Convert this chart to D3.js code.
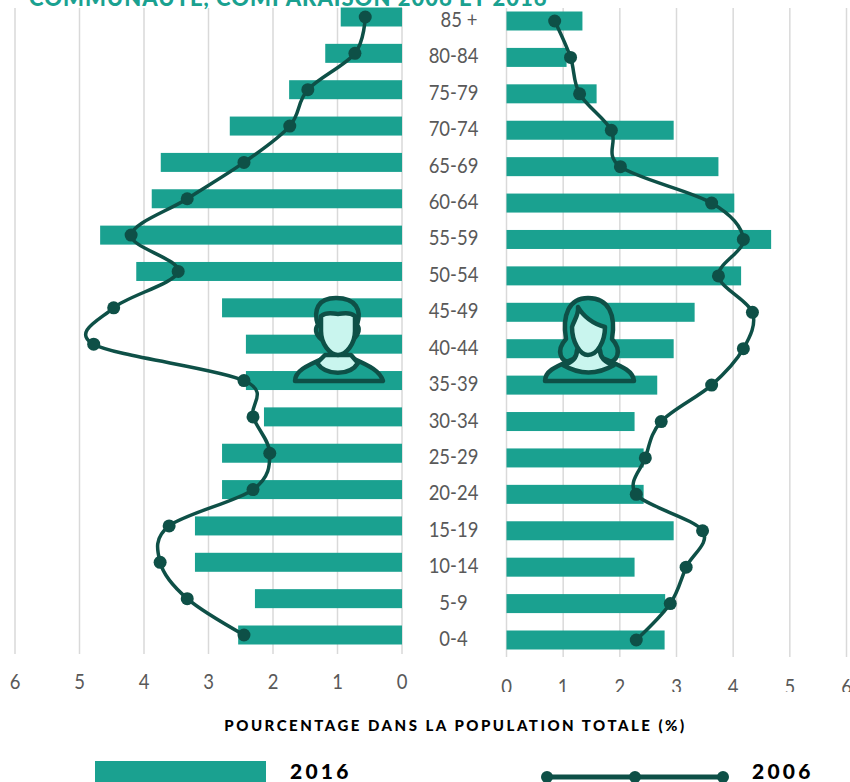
<!DOCTYPE html>
<html>
<head>
<meta charset="utf-8">
<script src="https://cdn.jsdelivr.net/npm/d3@7"></script>
<style>
  html, body { margin: 0; padding: 0; background: #fff; overflow: hidden; }
  svg { display: block; }
</style>
</head>
<body>
<svg id="chart" width="850" height="782"></svg>
<script>
const ageGroups = ["85 +", "80-84", "75-79", "70-74", "65-69", "60-64", "55-59", "50-54", "45-49",
  "40-44", "35-39", "30-34", "25-29", "20-24", "15-19", "10-14", "5-9", "0-4"];
const men2016 = [0.95, 1.19, 1.75, 2.67, 3.74, 3.88, 4.68, 4.12, 2.79, 2.42, 2.42, 2.14, 2.79, 2.79, 3.21, 3.21, 2.28, 2.54];
const men2006 = [0.57, 0.73, 1.46, 1.74, 2.45, 3.33, 4.2, 3.47, 4.47, 4.78, 2.45, 2.31, 2.05, 2.31, 3.61, 3.75, 3.33, 2.45];
const women2016 = [1.34, 1.06, 1.59, 2.95, 3.74, 4.02, 4.67, 4.14, 3.32, 2.95, 2.66, 2.26, 2.42, 2.42, 2.95, 2.26, 2.8, 2.79];
const women2006 = [0.85, 1.13, 1.29, 1.85, 2.01, 3.62, 4.18, 3.74, 4.34, 4.18, 3.62, 2.73, 2.45, 2.29, 3.46, 3.17, 2.89, 2.29];
const ticks = [0, 1, 2, 3, 4, 5, 6];

const teal = "#1aa190";
const dark = "#0e5047";
const grey = "#595959";
const grid = "#d9d9d9";
const skin = "#c9f5ee";
const font = "Lato, 'Open Sans', sans-serif";

const svg = d3.select("#chart");

// the right hand tick labels are cut off in the original, keep it that way
svg.append("clipPath").attr("id", "rightTicks")
  .append("rect").attr("x", 480).attr("y", 660).attr("width", 370).attr("height", 32);

// title is cut by the top of the picture, as in the original
svg.append("text")
  .attr("x", 29).attr("y", 6)
  .attr("font-family", font).attr("font-weight", 900).attr("font-size", 22)
  .attr("letter-spacing", 1)
  .attr("fill", teal)
  .text("COMMUNAUTÉ, COMPARAISON 2006 ET 2016");

const xLeft = d3.scaleLinear().domain([0, 6]).range([402, 15]);
const xRight = d3.scaleLinear().domain([0, 6]).range([506.5, 846.5]);
const yLeft = d3.scalePoint().domain(ageGroups).range([17, 635]);
const yRight = d3.scalePoint().domain(ageGroups).range([21, 640]);

// Lato is a bit wide next to the original Calibri, so squeeze it
function narrowText(sel, x, y) {
  return sel.attr("transform", (d, i) => `translate(${x(d, i)},${y(d, i)}) scale(0.88,1)`)
    .attr("text-anchor", "middle")
    .attr("font-family", font)
    .attr("font-size", 21)
    .attr("fill", grey);
}

function drawSide(x, y, bars, line, gridEnd, tickY) {
  const g = svg.append("g");

  g.append("g").selectAll("line")
    .data(ticks)
    .join("line")
    .attr("x1", d => x(d)).attr("x2", d => x(d))
    .attr("y1", 8).attr("y2", gridEnd)
    .attr("stroke", grid).attr("stroke-width", 1.5);

  g.append("g").selectAll("rect")
    .data(ageGroups)
    .join("rect")
    .attr("x", (d, i) => Math.min(x(0), x(bars[i])))
    .attr("y", d => y(d) - 9.5)
    .attr("width", (d, i) => Math.abs(x(bars[i]) - x(0)))
    .attr("height", 19)
    .attr("fill", teal);

  // uniform catmull-rom is close to what Excel does for a smoothed line
  const path = d3.line()
    .x((d, i) => x(d))
    .y((d, i) => y(ageGroups[i]))
    .curve(d3.curveCatmullRom.alpha(0));

  g.append("path")
    .attr("d", path(line))
    .attr("fill", "none")
    .attr("stroke", dark).attr("stroke-width", 3.5);

  g.append("g").selectAll("circle")
    .data(line)
    .join("circle")
    .attr("cx", d => x(d))
    .attr("cy", (d, i) => y(ageGroups[i]))
    .attr("r", 6.5)
    .attr("fill", dark);

  const tickLabels = g.append("g");
  tickLabels.selectAll("text")
    .data(ticks)
    .join("text")
    .call(narrowText, d => x(d), () => tickY)
    .text(d => d);
  return tickLabels;
}

drawSide(xLeft, yLeft, men2016, men2006, 654, 689);
drawSide(xRight, yRight, women2016, women2006, 657, 694)
  .attr("clip-path", "url(#rightTicks)");

svg.append("g").selectAll("text")
  .data(ageGroups)
  .join("text")
  .call(narrowText, d => d === "85 +" ? 459 : 453.5, d => yRight(d) + 6)
  .text(d => d);

svg.append("text")
  .attr("x", 455.5).attr("y", 731)
  .attr("text-anchor", "middle")
  .attr("font-family", font).attr("font-weight", 900).attr("font-size", 15)
  .attr("letter-spacing", 2.5)
  .attr("fill", "#000")
  .text("POURCENTAGE DANS LA POPULATION TOTALE (%)");

// legend
svg.append("rect").attr("x", 95).attr("y", 761).attr("width", 171).attr("height", 21).attr("fill", teal);
svg.append("text").attr("x", 290).attr("y", 779)
  .attr("font-family", font).attr("font-weight", 900).attr("font-size", 21).attr("letter-spacing", 3.2)
  .text("2016");

svg.append("line").attr("x1", 547).attr("x2", 723).attr("y1", 777).attr("y2", 777)
  .attr("stroke", dark).attr("stroke-width", 5);
svg.append("g").selectAll("circle")
  .data([547, 635, 723])
  .join("circle")
  .attr("cx", d => d).attr("cy", 777).attr("r", 6).attr("fill", dark);
svg.append("text").attr("x", 752).attr("y", 779)
  .attr("font-family", font).attr("font-weight", 900).attr("font-size", 21).attr("letter-spacing", 3.2)
  .text("2006");

// icons, drawn by hand around their centres
const man = svg.append("g").attr("transform", "translate(338,340)")
  .attr("stroke", dark).attr("stroke-width", 4.5).attr("stroke-linejoin", "round");
man.append("path")
  .attr("d", "M-43,41 C-43,31 -32,26 -14,18 L14,18 C32,26 42,31 45,41 Z")
  .attr("fill", teal);
man.append("path")
  .attr("d", "M-21,23 L-13,15 L13,15 L20,23 C12,36 -12,36 -21,23 Z")
  .attr("fill", skin);
man.append("path")
  .attr("d", "M-17,-1 C-23,-6 -23,-12 -20,-15 C-25,-30 -20,-42 -2,-42 C18,-42 24,-30 19,-15 C22,-12 21,-6 16,-1 Z")
  .attr("fill", teal);
man.append("path")
  .attr("d", "M-17,-24 C-10,-29 -5,-26 0,-26 C5,-26 10,-29 17,-24 L17,-9 C17,4 8,15 0,15 C-8,15 -17,4 -17,-9 Z")
  .attr("fill", skin);

const woman = svg.append("g").attr("transform", "translate(589,340)")
  .attr("stroke", dark).attr("stroke-width", 4.5).attr("stroke-linejoin", "round");
woman.append("path")
  .attr("d", "M-14,22 C-30,24 -33,10 -23,-1 C-27,-25 -20,-42 -1,-42 C20,-42 27,-25 23,-1 C33,10 30,24 14,22 Z")
  .attr("fill", teal);
woman.append("path")
  .attr("d", "M-44,41 C-44,31 -34,27 -16,19 L16,19 C34,27 44,31 45,41 Z")
  .attr("fill", teal);
woman.append("path")
  .attr("d", "M-26,25 C-18,23 -12,19 -12,10 L11,10 C11,19 18,23 25,25 C8,35 -9,35 -26,25 Z")
  .attr("fill", skin);
woman.append("path")
  .attr("d", "M-11,-33 C-10,-25 -15,-20 -17,-13 C-17,2 -9,15 -1,15 C8,15 16,2 16,-13 C4,-16 -6,-24 -11,-33 Z")
  .attr("fill", skin);
</script>
</body>
</html>
